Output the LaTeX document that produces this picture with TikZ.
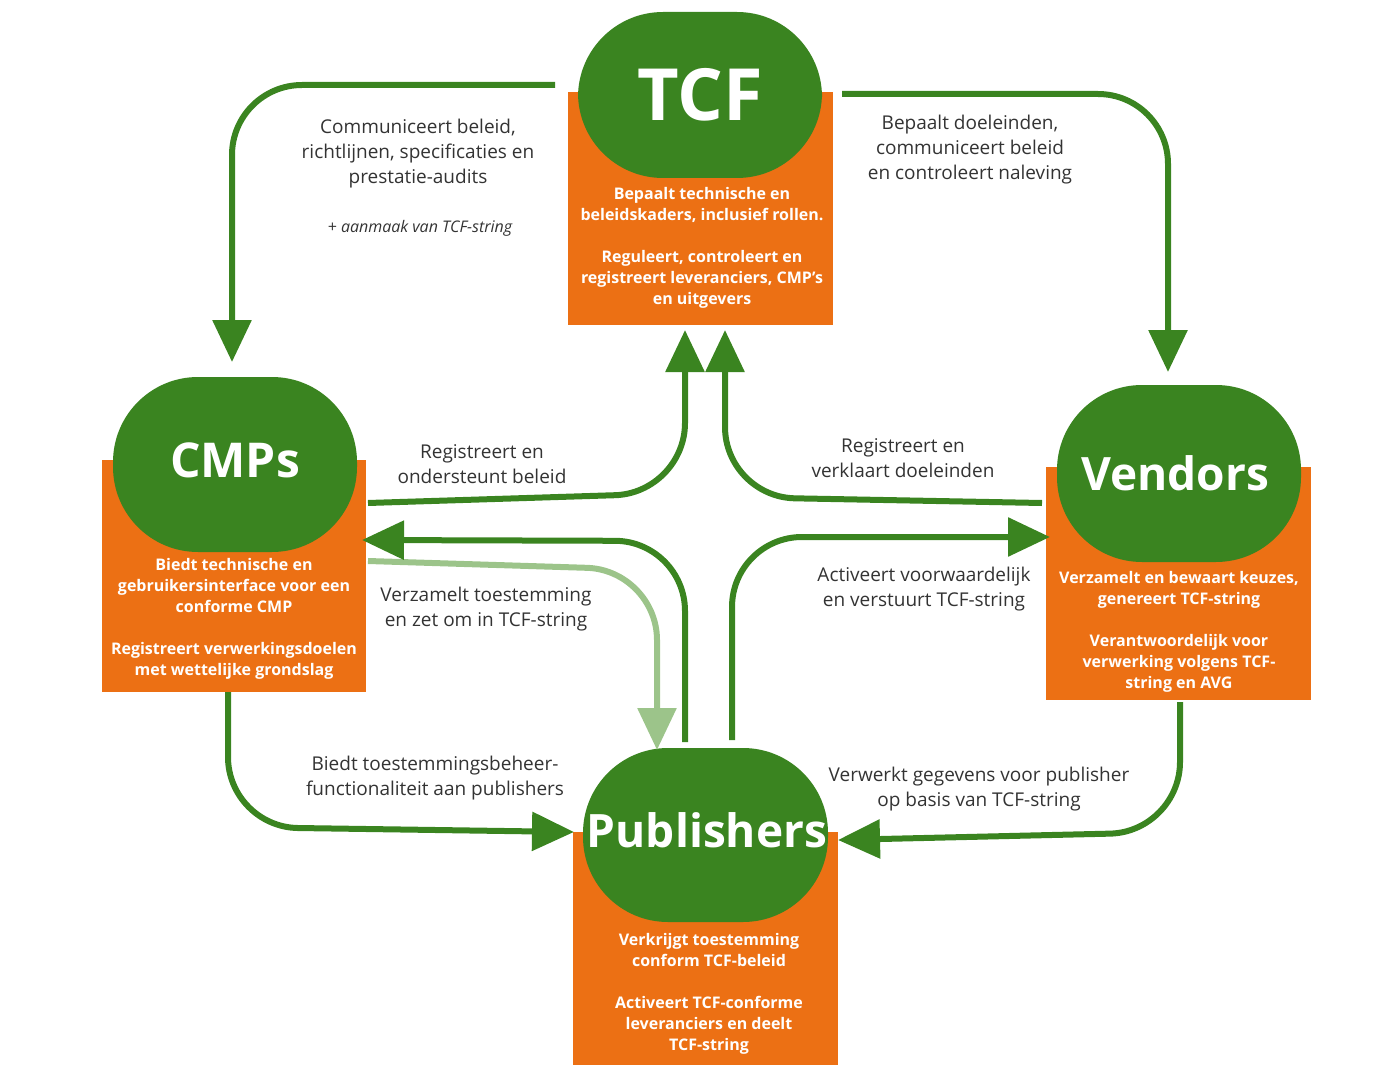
\documentclass[tikz,border=0pt]{standalone}
\usepackage{fontspec}
\setmainfont{Open Sans}
\usetikzlibrary{arrows.meta}
\definecolor{gr}{HTML}{3A8420}
\definecolor{lg}{HTML}{9CC48A}
\definecolor{or}{HTML}{EC7014}
\begin{document}
\begin{tikzpicture}[x=1pt,y=-1pt,
 box/.style={fill=or,draw=none},
 blob/.style={fill=gr,draw=none,rounded corners=85pt},
 btxt/.style={text=white,font=\fontsize{16}{21}\selectfont\bfseries,align=center},
 ttl/.style={text=white,font=\bfseries},
 lab/.style={text=black!80,font=\fontsize{19}{25}\selectfont,align=center},
 arr/.style={draw=gr,line width=6pt,rounded corners=70pt,-{Triangle[width=38pt,length=42pt]}},
 arrl/.style={arr,draw=lg,-{Triangle[width=38pt,length=42pt,fill=lg]}}]
\useasboundingbox (0,0) rectangle (1381,1075);
% entities
\fill[box] (568,92) rectangle (833,325);
\fill[blob] (578,12) rectangle (822,178);
\node[ttl,font=\fontsize{72}{72}\selectfont\bfseries] (tcf) at (700,95) {TCF};
\node[btxt] (tcft) at (702,248) {Bepaalt technische en\\beleidskaders, inclusief rollen.\\[21pt]Reguleert, controleert en\\registreert leveranciers, CMP’s\\en uitgevers};
\fill[box] (102,460) rectangle (366,692);
\fill[blob] (113,377) rectangle (357,552);
\node[ttl,font=\fontsize{48}{48}\selectfont\bfseries] (cmp) at (235,460) {CMPs};
\node[btxt] (cmpt) at (234,619) {Biedt technische en\\gebruikersinterface voor een\\conforme CMP\\[21pt]Registreert verwerkingsdoelen\\met wettelijke grondslag};
\fill[box] (1046,467) rectangle (1311,700);
\fill[blob] (1057,385) rectangle (1301,562);
\node[ttl,font=\fontsize{46}{46}\selectfont\bfseries] (ven) at (1175,473) {Vendors};
\node[btxt] (vent) at (1179,632) {Verzamelt en bewaart keuzes,\\genereert TCF-string\\[21pt]Verantwoordelijk voor\\verwerking volgens TCF-\\string en AVG};
\fill[box] (573,832) rectangle (838,1065);
\fill[blob] (583,748) rectangle (828,922);
\node[ttl,font=\fontsize{46}{46}\selectfont\bfseries] (pub) at (707,830) {Publishers};
\node[btxt] (pubt) at (709,994) {Verkrijgt toestemming\\conform TCF-beleid\\[21pt]Activeert TCF-conforme\\leveranciers en deelt\\TCF-string};
% connectors
\coordinate (a1) at (555,85); \coordinate (a1e) at (238,362);
\draw[arr] (a1) -- (232,85) -- (232,362);
\coordinate (a2) at (842,94);
\draw[arr] (a2) -- (1168,94) -- (1168,372);
\draw[arr] (368,503) -- (685,493) -- (685,330);
\draw[arr] (1042,503) -- (725,497) -- (725,330);
\draw[arrl] (368,561) -- (657,570) -- (657,750);
\draw[arr] (685,742) -- (685,541) -- (362,540);
\draw[arr] (732,740) -- (732,537) -- (1050,537);
\draw[arr] (228,692) -- (228,827) -- (574,832);
\draw[arr] (1180,702) -- (1180,832) -- (838,840);
% labels
\node[lab] at (418,154) {Communiceert beleid,\\richtlijnen, specificaties en\\prestatie-audits};
\node[lab,font=\fontsize{16}{20}\selectfont\itshape] at (420,228) {+ aanmaak van TCF-string};
\node[lab] at (970,150) {Bepaalt doeleinden,\\communiceert beleid\\en controleert naleving};
\node[lab] at (482,464) {Registreert en\\ondersteunt beleid};
\node[lab] at (903,458) {Registreert en\\verklaart doeleinden};
\node[lab] at (486,609) {Verzamelt toestemming\\en zet om in TCF-string};
\node[lab] at (924,589) {Activeert voorwaardelijk\\en verstuurt TCF-string};
\node[lab] at (435,778) {Biedt toestemmingsbeheer-\\functionaliteit aan publishers};
\node[lab] at (979,789) {Verwerkt gegevens voor publisher\\op basis van TCF-string};
\end{tikzpicture}
\end{document}
